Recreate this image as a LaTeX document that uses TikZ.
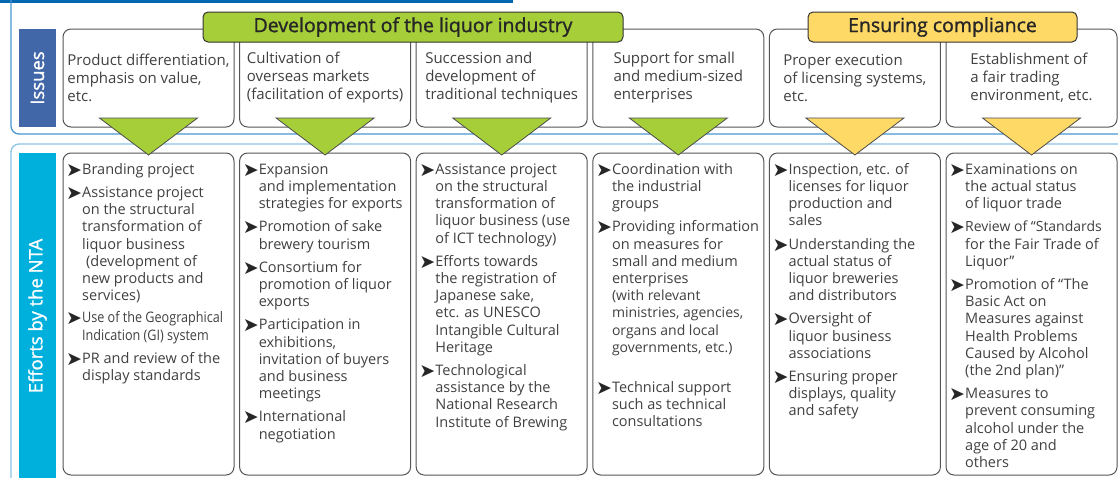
\documentclass[tikz,border=0pt]{standalone}
\usepackage{fontspec}
\setmainfont{Open Sans}
\newfontfamily\symfont{DejaVu Sans}
\newfontfamily\narrowfont[FakeStretch=0.87]{Open Sans}
\newfontfamily\headfont[FakeBold=1.2]{Open Sans}
\usepackage{tikz}
\usetikzlibrary{calc}
\definecolor{topblue}{RGB}{0,104,176}
\definecolor{frameblue}{RGB}{72,150,210}
\definecolor{framelight}{RGB}{140,196,230}
\definecolor{issueblue}{RGB}{66,103,168}
\definecolor{effortcyan}{RGB}{0,176,220}
\definecolor{devgreen}{RGB}{166,206,57}
\definecolor{compyellow}{RGB}{255,217,102}
\definecolor{boxgray}{RGB}{85,85,85}
\definecolor{textgray}{RGB}{64,64,64}

\tikzset{
  issuebox/.style={draw=boxgray, line width=1pt, rounded corners=8pt, minimum width=171pt,
    minimum height=98pt, inner sep=0pt, outer sep=0pt, align=left, text=textgray,
    font=\fontsize{15}{18}\selectfont},
  effortbox/.style={draw=boxgray, line width=1pt, rounded corners=8pt, minimum width=171pt,
    minimum height=322pt, inner sep=0pt, outer sep=0pt},
  efftext/.style={anchor=north west, inner sep=0pt, text=textgray,
    font=\fontsize{14.5}{17.2}\selectfont},
  header/.style={draw=black!80, line width=1pt, rounded corners=5pt, minimum height=30pt,
    inner sep=0pt, text=black!85, font=\headfont\fontsize{19.5}{22}\selectfont},
  sidelabel/.style={rotate=90, inner sep=0pt, text=white, font=\headfont\fontsize{18.5}{22}\selectfont},
  arrowtri/.style={draw=black!70, line width=0.8pt, line join=miter}
}
% bullet arrow in front of each item
\newcommand{\bul}{\makebox[16pt][l]{\symfont\fontsize{19}{17}\selectfont\color{black!85}\raisebox{-2pt}{➤}}}

\begin{document}
\begin{tikzpicture}[x=1pt, y=-1pt]
  \useasboundingbox (0,0) rectangle (1118,477);

  % frames
  \draw[topblue, line width=5pt] (0,0) -- (513,0);
  \draw[frameblue, line width=1.3pt, rounded corners=8pt] (11,-10) -- (11,134) -- (1130,134);
  \draw[framelight, line width=1.3pt, rounded corners=8pt] (11,490) -- (11,144) -- (1130,144);

  % row labels
  \node[sidelabel, fill=issueblue, minimum width=98pt, minimum height=37pt] (isslabel) at (37.5,78) {Issues};
  \node[sidelabel, fill=effortcyan, minimum width=326pt, minimum height=37pt] (efflabel) at (37.5,316) {Efforts by the NTA};

  % issues
  \node[issuebox] (iss1) at (148.5,78) {Product differentiation,\\emphasis on value,\\etc.};
  \node[issuebox] (iss2) at (325.1,78) {Cultivation of\\overseas markets\\(facilitation of exports)};
  \node[issuebox] (iss3) at (501.7,78) {Succession and\\development of\\traditional techniques};
  \node[issuebox] (iss4) at (678.3,78) {Support for small\\and medium-sized\\enterprises};
  \node[issuebox] (iss5) at (854.9,78) {Proper execution\\of licensing systems,\\etc.};
  \node[issuebox] (iss6) at (1031.5,78) {Establishment of\\a fair trading\\environment, etc.};

  % headers
  \node[header, fill=devgreen, minimum width=420pt] (hdrdev) at (413,27) {Development of the liquor industry};
  \node[header, fill=compyellow, minimum width=269pt] (hdrcomp) at (942.5,27) {Ensuring compliance};

  % efforts
  \node[effortbox] (eff1) at (148.5,314) {};
  \node[effortbox] (eff2) at (325.1,314) {};
  \node[effortbox] (eff3) at (501.7,314) {};
  \node[effortbox] (eff4) at (678.3,314) {};
  \node[effortbox] (eff5) at (854.9,314) {};
  \node[effortbox] (eff6) at (1031.5,314) {};

  \node[efftext] (eff1txt) at ($(eff1.north west)+(3,9)$) {%
    \begin{tabular}{@{}l@{}l@{}}
      \bul & Branding project\\[6pt]
      \bul & Assistance project\\
           & on the structural\\
           & transformation of\\
           & liquor business\\
           & \hspace{4pt}(development of\\
           & new products and\\
           & services)\\[5pt]
      \bul & {\narrowfont Use of the Geographical}\\
           & {\narrowfont Indication (GI) system}\\[6pt]
      \bul & PR and review of the\\
           & display standards
    \end{tabular}};
  \node[efftext] (eff2txt) at ($(eff2.north west)+(3,9)$) {%
    \begin{tabular}{@{}l@{}l@{}}
      \bul & Expansion\\
           & and implementation\\
           & strategies for exports\\[6pt]
      \bul & Promotion of sake\\
           & brewery tourism\\[6pt]
      \bul & Consortium for\\
           & promotion of liquor\\
           & exports\\[6pt]
      \bul & Participation in\\
           & exhibitions,\\
           & invitation of buyers\\
           & and business\\
           & meetings\\[6pt]
      \bul & International\\
           & negotiation
    \end{tabular}};
  \node[efftext] (eff3txt) at ($(eff3.north west)+(3,9)$) {%
    \begin{tabular}{@{}l@{}l@{}}
      \bul & Assistance project\\
           & on the structural\\
           & transformation of\\
           & liquor business (use\\
           & of ICT technology)\\[6pt]
      \bul & Efforts towards\\
           & the registration of\\
           & Japanese sake,\\
           & etc. as UNESCO\\
           & Intangible Cultural\\
           & Heritage\\[6pt]
      \bul & Technological\\
           & assistance by the\\
           & National Research\\
           & Institute of Brewing
    \end{tabular}};
  \node[efftext] (eff4txt) at ($(eff4.north west)+(3,9)$) {%
    \begin{tabular}{@{}l@{}l@{}}
      \bul & Coordination with\\
           & the industrial\\
           & groups\\[6pt]
      \bul & Providing information\\
           & on measures for\\
           & small and medium\\
           & enterprises\\
           & {\fontsize{14}{17}\selectfont (with relevant}\\
           & {\fontsize{14}{17}\selectfont ministries, agencies,}\\
           & {\fontsize{14}{17}\selectfont organs and local}\\
           & {\fontsize{14}{17}\selectfont governments, etc.)}\\[23pt]
      \bul & Technical support\\
           & such as technical\\
           & consultations
    \end{tabular}};
  \node[efftext] (eff5txt) at ($(eff5.north west)+(3,9)$) {%
    \begin{tabular}{@{}l@{}l@{}}
      \bul & Inspection, etc. of\\
           & licenses for liquor\\
           & production and\\
           & sales\\[6pt]
      \bul & Understanding the\\
           & actual status of\\
           & liquor breweries\\
           & and distributors\\[6pt]
      \bul & Oversight of\\
           & liquor business\\
           & associations\\[6pt]
      \bul & Ensuring proper\\
           & displays, quality\\
           & and safety
    \end{tabular}};
  \node[efftext] (eff6txt) at ($(eff6.north west)+(3,9)$) {%
    \begin{tabular}{@{}l@{}l@{}}
      \bul & Examinations on\\
           & the actual status\\
           & of liquor trade\\[6pt]
      \bul & {\fontsize{14}{17}\selectfont Review of “Standards}\\
           & for the Fair Trade of\\
           & Liquor”\\[6pt]
      \bul & Promotion of “The\\
           & Basic Act on\\
           & Measures against\\
           & Health Problems\\
           & Caused by Alcohol\\
           & (the 2nd plan)”\\[6pt]
      \bul & Measures to\\
           & prevent consuming\\
           & alcohol under the\\
           & age of 20 and\\
           & others
    \end{tabular}};

  % arrows from issues down to efforts
  \filldraw[arrowtri, fill=devgreen] ($(iss1.south)+(-49,-9)$) -- ($(iss1.south)+(49,-9)$) -- ($(eff1.north)+(0,2)$) -- cycle;
  \filldraw[arrowtri, fill=devgreen] ($(iss2.south)+(-49,-9)$) -- ($(iss2.south)+(49,-9)$) -- ($(eff2.north)+(0,2)$) -- cycle;
  \filldraw[arrowtri, fill=devgreen] ($(iss3.south)+(-49,-9)$) -- ($(iss3.south)+(49,-9)$) -- ($(eff3.north)+(0,2)$) -- cycle;
  \filldraw[arrowtri, fill=devgreen] ($(iss4.south)+(-49,-9)$) -- ($(iss4.south)+(49,-9)$) -- ($(eff4.north)+(0,2)$) -- cycle;
  \filldraw[arrowtri, fill=compyellow] ($(iss5.south)+(-49,-9)$) -- ($(iss5.south)+(49,-9)$) -- ($(eff5.north)+(0,2)$) -- cycle;
  \filldraw[arrowtri, fill=compyellow] ($(iss6.south)+(-49,-9)$) -- ($(iss6.south)+(49,-9)$) -- ($(eff6.north)+(0,2)$) -- cycle;
\end{tikzpicture}
\end{document}
